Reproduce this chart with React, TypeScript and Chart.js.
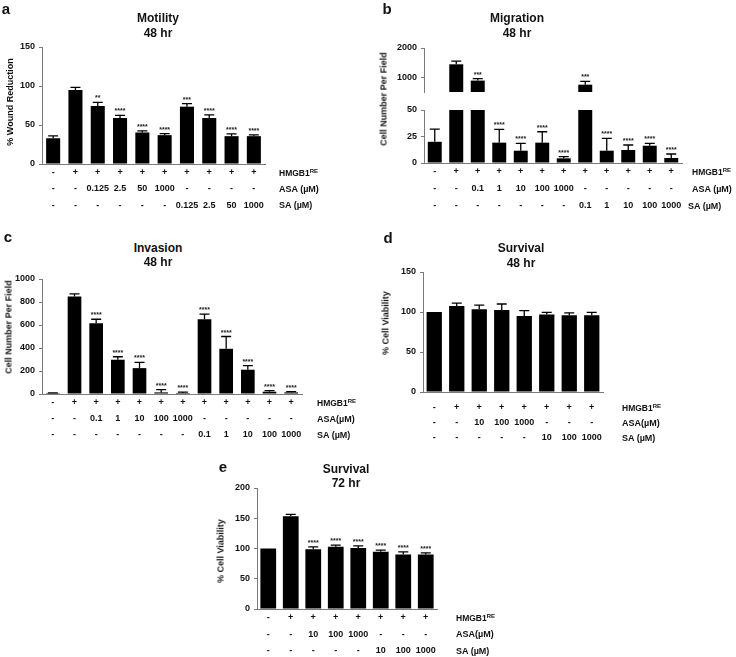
import React, { useEffect, useRef } from "react";
import { Chart, registerables } from "chart.js";

Chart.register(...registerables);

const FONT = "Arial, 'Liberation Sans', Helvetica, sans-serif";
const AXIS = "#7a7a7a";

// ---------- Panel a: Motility 48 hr ----------
const motilityHMGB = ["-", "+", "+", "+", "+", "+", "+", "+", "+", "+"];
const motilityASA = ["-", "-", "0.125", "2.5", "50", "1000", "-", "-", "-", "-"];
const motilitySA = ["-", "-", "-", "-", "-", "-", "0.125", "2.5", "50", "1000"];
const motilityValues = [33, 94.8, 74.4, 59, 40.4, 37, 73.5, 59, 35.7, 35.7];
const motilityErrors = [3, 3.4, 4.7, 3.4, 2.1, 2, 3.8, 3.9, 3, 1.7];
const motilityStars = ["", "", "**", "****", "****", "****", "***", "****", "****", "****"];
const motilityTicks = [0, 50, 100, 150];

// ---------- Panel b: Migration 48 hr (broken axis) ----------
const migrationHMGB = ["-", "+", "+", "+", "+", "+", "+", "+", "+", "+", "+", "+"];
const migrationASA = ["-", "-", "0.1", "1", "10", "100", "1000", "-", "-", "-", "-", "-"];
const migrationSA = ["-", "-", "-", "-", "-", "-", "-", "0.1", "1", "10", "100", "1000"];
const migrationValues = [20, 1444, 889, 19.2, 11.6, 19.2, 4.4, 750, 11.6, 12.3, 16.3, 4.7];
const migrationErrors = [12, 111, 64, 12.6, 7, 10.3, 1.6, 111, 11.7, 4.7, 2.3, 3.8];
const migrationStars = ["", "", "***", "****", "****", "****", "****", "***", "****", "****", "****", "****"];
const migrationBreak = [50, 500];
const migrationLowerTicks = [0, 25, 50];
const migrationUpperTicks = [1000, 2000];
const migrationUpperMax = 2000;

// ---------- Panel c: Invasion 48 hr ----------
const invasionHMGB = ["-", "+", "+", "+", "+", "+", "+", "+", "+", "+", "+", "+"];
const invasionASA = ["-", "-", "0.1", "1", "10", "100", "1000", "-", "-", "-", "-", "-"];
const invasionSA = ["-", "-", "-", "-", "-", "-", "-", "0.1", "1", "10", "100", "1000"];
const invasionValues = [8, 847, 616, 298, 225, 14, 9, 650, 393, 211, 20, 14];
const invasionErrors = [2, 23, 34, 26, 50, 24, 8, 44, 107, 35, 9, 6];
const invasionStars = ["", "", "****", "****", "****", "****", "****", "****", "****", "****", "****", "****"];
const invasionTicks = [0, 200, 400, 600, 800, 1000];

// ---------- Panel d: Survival 48 hr ----------
const survival48HMGB = ["-", "+", "+", "+", "+", "+", "+", "+"];
const survival48ASA = ["-", "-", "10", "100", "1000", "-", "-", "-"];
const survival48SA = ["-", "-", "-", "-", "-", "10", "100", "1000"];
const survival48Values = [100, 107.5, 103.3, 102.5, 95, 97, 96, 96];
const survival48Errors = [0, 3.5, 5.4, 7.5, 6.7, 2.5, 3, 3.6];
const survival48Stars = ["", "", "", "", "", "", "", ""];
const survival48Ticks = [0, 50, 100, 150];

// ---------- Panel e: Survival 72 hr ----------
const survival72HMGB = ["-", "+", "+", "+", "+", "+", "+", "+"];
const survival72ASA = ["-", "-", "10", "100", "1000", "-", "-", "-"];
const survival72SA = ["-", "-", "-", "-", "-", "10", "100", "1000"];
const survival72Values = [100, 153.3, 98.9, 102.7, 101, 94.5, 90, 90];
const survival72Errors = [0, 3, 3.8, 2.8, 3.3, 2.8, 4.5, 2.9];
const survival72Stars = ["", "", "****", "****", "****", "****", "****", "****"];
const survival72Ticks = [0, 50, 100, 150, 200];

type Box = { x: number; y: number; w: number; h: number };
type Area = { l: number; t: number; r: number; b: number };

type PanelProps = {
  canvas: Box;
  area: Area;
  labels: (string | string[])[];
  barData: any[];
  errTops: (number | null)[];
  errors: number[];
  stars: string[];
  yMin: number;
  yMax: number;
  yTicks: number[];
  barPct: number;
  showX: boolean;
  rowPad?: number;
  rowLine?: number;
  capHalf?: number;
};

function makeErrPlugin(tops: (number | null)[], errs: number[], stars: string[], capHalf: number) {
  return {
    id: "errbars",
    afterDatasetsDraw(chart: any) {
      const ctx = chart.ctx;
      const meta = chart.getDatasetMeta(0);
      const ys = chart.scales.y;
      ctx.save();
      ctx.strokeStyle = "#000";
      ctx.lineWidth = 1.3;
      tops.forEach((v, i) => {
        if (v == null) return;
        const bar = meta.data[i];
        if (!bar) return;
        const x = bar.x;
        const y0 = ys.getPixelForValue(v);
        const y1 = ys.getPixelForValue(v + (errs[i] || 0));
        if (errs[i] > 0) {
          ctx.beginPath();
          ctx.moveTo(x, y0);
          ctx.lineTo(x, y1);
          ctx.moveTo(x - capHalf, y1);
          ctx.lineTo(x + capHalf, y1);
          ctx.stroke();
        }
        if (stars[i]) {
          ctx.fillStyle = "#222";
          ctx.font = `bold 7px ${FONT}`;
          ctx.textAlign = "center";
          ctx.textBaseline = "alphabetic";
          ctx.fillText(stars[i], x, y1 - 2);
        }
      });
      ctx.restore();
    },
  };
}

function BarPanel(p: PanelProps) {
  const ref = useRef<HTMLCanvasElement | null>(null);
  useEffect(() => {
    if (!ref.current) return;
    const { canvas, area } = p;
    const rowLine = p.rowLine ?? 16.5;
    const chart = new Chart(ref.current, {
      type: "bar",
      data: {
        labels: p.labels as any,
        datasets: [
          {
            data: p.barData,
            backgroundColor: "#000",
            borderWidth: 0,
            barPercentage: p.barPct,
            categoryPercentage: 1,
          } as any,
        ],
      },
      options: {
        animation: false,
        responsive: false,
        maintainAspectRatio: false,
        devicePixelRatio: 1,
        layout: {
          padding: {
            left: 0,
            top: area.t - canvas.y,
            right: canvas.x + canvas.w - area.r,
            bottom: p.showX ? 0 : canvas.y + canvas.h - area.b,
          },
        },
        plugins: {
          legend: { display: false },
          tooltip: { enabled: false },
          title: { display: false },
        },
        scales: {
          x: {
            display: p.showX,
            grid: { display: false, drawTicks: false },
            border: { display: true, color: AXIS, width: 1 },
            ticks: {
              autoSkip: false,
              maxRotation: 0,
              minRotation: 0,
              padding: p.rowPad ?? 0,
              color: "#111",
              font: { family: FONT, size: 9, weight: "bold", lineHeight: rowLine / 9 },
            },
            afterFit: (s: any) => {
              s.height = canvas.y + canvas.h - area.b;
            },
          } as any,
          y: {
            min: p.yMin,
            max: p.yMax,
            afterBuildTicks: (s: any) => {
              s.ticks = p.yTicks.map((v) => ({ value: v }));
            },
            grid: { display: true, drawOnChartArea: false, drawTicks: true, tickLength: 3, color: AXIS },
            border: { display: true, color: AXIS, width: 1 },
            ticks: {
              padding: 4,
              color: "#111",
              font: { family: FONT, size: 9, weight: "bold" },
              callback: (v: any) => String(v),
            },
            afterFit: (s: any) => {
              s.width = area.l - canvas.x;
            },
          } as any,
        },
      },
      plugins: [makeErrPlugin(p.errTops, p.errors, p.stars, p.capHalf ?? 5)],
    });
    return () => chart.destroy();
  }, []);
  const { canvas } = p;
  return (
    <canvas
      ref={ref}
      width={canvas.w}
      height={canvas.h}
      style={{ position: "absolute", left: canvas.x, top: canvas.y, width: canvas.w, height: canvas.h }}
    />
  );
}

function Txt(props: {
  x: number;
  y: number;
  size: number;
  align?: "center" | "left";
  rotate?: boolean;
  children: React.ReactNode;
}) {
  const { x, y, size, align = "center", rotate } = props;
  let transform = align === "center" ? "translate(-50%,-50%)" : "translate(0,-50%)";
  if (rotate) transform += " rotate(-90deg)";
  return (
    <div
      style={{
        position: "absolute",
        left: x,
        top: y,
        transform,
        fontFamily: FONT,
        fontWeight: "bold",
        fontSize: size,
        lineHeight: 1,
        whiteSpace: "nowrap",
        color: "#111",
      }}
    >
      {props.children}
    </div>
  );
}

const Hmgb = ({ x, y }: { x: number; y: number }) => (
  <Txt x={x} y={y} size={8.5} align="left">
    HMGB1<span style={{ fontSize: 6, position: "relative", top: -3 }}>RE</span>
  </Txt>
);

const rows3 = (a: string[], b: string[], c: string[]) => a.map((v, i) => [v, b[i], c[i]]);

export default function App() {
  const migLabels = rows3(migrationHMGB, migrationASA, migrationSA);
  return (
    <div
      style={{
        position: "absolute",
        left: 0,
        top: 0,
        width: 736,
        height: 657,
        background: "#fff",
        overflow: "hidden",
      }}
    >
      {/* Panel a */}
      <BarPanel
        canvas={{ x: 0, y: 0, w: 300, h: 215 }}
        area={{ l: 42, t: 47, r: 265, b: 164 }}
        labels={rows3(motilityHMGB, motilityASA, motilitySA)}
        barData={motilityValues}
        errTops={motilityValues}
        errors={motilityErrors}
        stars={motilityStars}
        yMin={0}
        yMax={150}
        yTicks={motilityTicks}
        barPct={0.63}
        showX={true}
        rowPad={0}
        rowLine={16.5}
      />
      <Txt x={6} y={8} size={15}>a</Txt>
      <Txt x={158} y={18} size={12}>Motility</Txt>
      <Txt x={158} y={33} size={12}>48 hr</Txt>
      <Txt x={10} y={102} size={9} rotate>% Wound Reduction</Txt>
      <Hmgb x={279} y={172.5} />
      <Txt x={279} y={188.5} size={9} align="left">ASA (µM)</Txt>
      <Txt x={279} y={205} size={9} align="left">SA (µM)</Txt>

      {/* Panel b: upper segment */}
      <BarPanel
        canvas={{ x: 370, y: 38, w: 340, h: 74 }}
        area={{ l: 424, t: 48, r: 682, b: 102 }}
        labels={migrationValues.map(() => "")}
        barData={migrationValues.map((v) => (v >= migrationBreak[1] ? [migrationBreak[1], v] : null))}
        errTops={migrationValues.map((v) => (v >= migrationBreak[1] ? v : null))}
        errors={migrationErrors}
        stars={migrationStars}
        yMin={migrationBreak[1]}
        yMax={migrationUpperMax}
        yTicks={migrationUpperTicks}
        barPct={0.65}
        showX={false}
      />
      {/* Panel b: lower segment */}
      <BarPanel
        canvas={{ x: 370, y: 100, w: 340, h: 115 }}
        area={{ l: 424, t: 110, r: 682, b: 163 }}
        labels={migLabels}
        barData={migrationValues.map((v) => Math.min(v, migrationBreak[0]))}
        errTops={migrationValues.map((v) => (v <= migrationBreak[0] ? v : null))}
        errors={migrationErrors}
        stars={migrationStars}
        yMin={0}
        yMax={migrationBreak[0]}
        yTicks={migrationLowerTicks}
        barPct={0.65}
        showX={true}
        rowPad={0}
        rowLine={17}
      />
      <Txt x={387} y={8} size={15}>b</Txt>
      <Txt x={517} y={18} size={12}>Migration</Txt>
      <Txt x={517} y={33} size={12}>48 hr</Txt>
      <Txt x={384} y={99} size={9} rotate>Cell Number Per Field</Txt>
      <Hmgb x={692} y={171.5} />
      <Txt x={692} y={188.5} size={9} align="left">ASA (µM)</Txt>
      <Txt x={688} y={205.5} size={9} align="left">SA (µM)</Txt>

      {/* Panel c */}
      <BarPanel
        canvas={{ x: 0, y: 255, w: 330, h: 190 }}
        area={{ l: 42, t: 279, r: 302, b: 394 }}
        labels={rows3(invasionHMGB, invasionASA, invasionSA)}
        barData={invasionValues}
        errTops={invasionValues}
        errors={invasionErrors}
        stars={invasionStars}
        yMin={0}
        yMax={1000}
        yTicks={invasionTicks}
        barPct={0.63}
        showX={true}
        rowPad={1}
        rowLine={16}
      />
      <Txt x={8} y={236} size={15}>c</Txt>
      <Txt x={158} y={248} size={12}>Invasion</Txt>
      <Txt x={158} y={262} size={12}>48 hr</Txt>
      <Txt x={9} y={327} size={9} rotate>Cell Number Per Field</Txt>
      <Hmgb x={317} y={403} />
      <Txt x={317} y={419} size={9} align="left">ASA(µM)</Txt>
      <Txt x={317} y={435} size={9} align="left">SA (µM)</Txt>

      {/* Panel d */}
      <BarPanel
        canvas={{ x: 370, y: 250, w: 260, h: 200 }}
        area={{ l: 423, t: 272, r: 603, b: 392 }}
        labels={rows3(survival48HMGB, survival48ASA, survival48SA)}
        barData={survival48Values}
        errTops={survival48Values}
        errors={survival48Errors}
        stars={survival48Stars}
        yMin={0}
        yMax={150}
        yTicks={survival48Ticks}
        barPct={0.68}
        showX={true}
        rowPad={8.5}
        rowLine={15}
      />
      <Txt x={388} y={237} size={15}>d</Txt>
      <Txt x={521} y={248} size={12}>Survival</Txt>
      <Txt x={521} y={263} size={12}>48 hr</Txt>
      <Txt x={386} y={323} size={9} rotate>% Cell Viability</Txt>
      <Hmgb x={622} y={408} />
      <Txt x={622} y={423} size={9} align="left">ASA(µM)</Txt>
      <Txt x={622} y={438} size={9} align="left">SA (µM)</Txt>

      {/* Panel e */}
      <BarPanel
        canvas={{ x: 180, y: 470, w: 280, h: 187 }}
        area={{ l: 257, t: 488, r: 437, b: 609 }}
        labels={rows3(survival72HMGB, survival72ASA, survival72SA)}
        barData={survival72Values}
        errTops={survival72Values}
        errors={survival72Errors}
        stars={survival72Stars}
        yMin={0}
        yMax={200}
        yTicks={survival72Ticks}
        barPct={0.7}
        showX={true}
        rowPad={0.75}
        rowLine={16.5}
      />
      <Txt x={223} y={466} size={15}>e</Txt>
      <Txt x={346} y={469} size={12}>Survival</Txt>
      <Txt x={346} y={483} size={12}>72 hr</Txt>
      <Txt x={221} y={551} size={9} rotate>% Cell Viability</Txt>
      <Hmgb x={456} y={618} />
      <Txt x={456} y={634} size={9} align="left">ASA(µM)</Txt>
      <Txt x={456} y={651} size={9} align="left">SA (µM)</Txt>
    </div>
  );
}
